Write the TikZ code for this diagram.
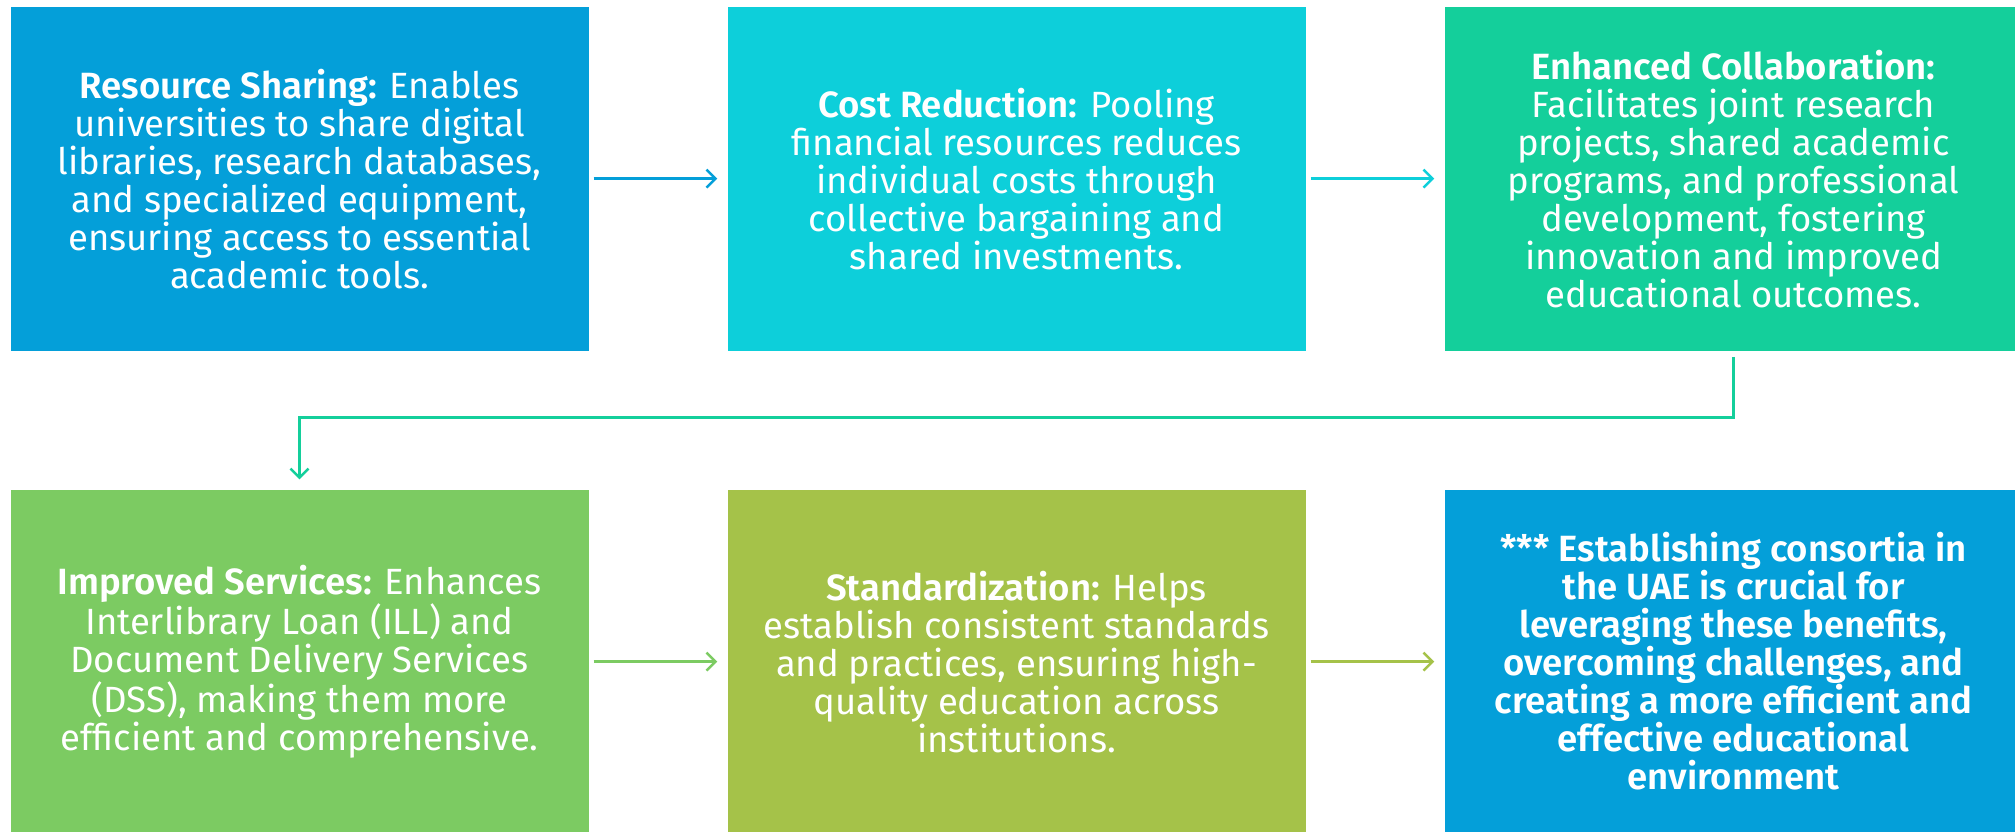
\documentclass[tikz,border=0pt]{standalone}
\usepackage{fontspec}
\setmainfont{Fira Sans}[BoldFont={Fira Sans SemiBold}]
\usetikzlibrary{arrows.meta}
\definecolor{rsblue}{HTML}{049FD9}
\definecolor{crcyan}{HTML}{0DCFDA}
\definecolor{ecgreen}{HTML}{14CF9B}
\definecolor{isgreen}{HTML}{7CCB62}
\definecolor{stdolive}{HTML}{A5C249}
\tikzset{
  box/.style={rectangle,minimum width=578bp,minimum height=344bp,inner sep=0pt,
    text=white,align=center,font=\fontsize{36.5bp}{38bp}\selectfont},
  link/.style={-{Straight Barb[length=9bp,width=18bp]},line width=2.5bp,
    shorten <=5bp,shorten >=10bp}
}
\begin{document}
\begin{tikzpicture}[line join=miter]
\useasboundingbox (0,0) rectangle (2015bp,832bp);
\clip (0,0) rectangle (2015bp,832bp);
%%
\node (rs) at (299.5bp,653.4bp) [box,fill=rsblue] {\textbf{Resource Sharing:} Enables\\universities to share digital\\libraries, research databases,\\and specialized equipment,\\ensuring access to essential\\academic tools.};
  \node (cr) at (1016.5bp,653.4bp) [box,fill=crcyan] {\textbf{Cost Reduction:} Pooling\\financial resources reduces\\individual costs through\\collective bargaining and\\shared investments.};
  \node (ec) at (1733.5bp,653.4bp) [box,fill=ecgreen] {\textbf{Enhanced Collaboration:}\\Facilitates joint research\\projects, shared academic\\programs, and professional\\development, fostering\\innovation and improved\\educational outcomes.};
  \node (is) at (299.5bp,170.4bp) [box,fill=isgreen] {\textbf{Improved Services:} Enhances\\Interlibrary Loan (ILL) and\\Document Delivery Services\\(DSS), making them more\\efficient and comprehensive.};
  \node (std) at (1016.5bp,170.4bp) [box,fill=stdolive] {\textbf{Standardization:} Helps\\establish consistent standards\\and practices, ensuring high-\\quality education across\\institutions.};
  \node (est) at (1733.5bp,170.4bp) [box,fill=rsblue,font=\bfseries\fontsize{36.5bp}{38bp}\selectfont] {*** Establishing consortia in\\the UAE is crucial for\\leveraging these benefits,\\overcoming challenges, and\\creating a more efficient and\\effective educational\\environment};
  \coordinate (bend) at (1733.5bp,414.4bp);
  \draw [link,rsblue] (rs) -- (cr);
  \draw [link,crcyan] (cr) -- (ec);
  \draw [link,ecgreen,shorten <=6bp] (ec) -- (bend) -| (is);
  \draw [link,isgreen] (is) -- (std);
  \draw [link,stdolive] (std) -- (est);
%
\end{tikzpicture}
\end{document}
